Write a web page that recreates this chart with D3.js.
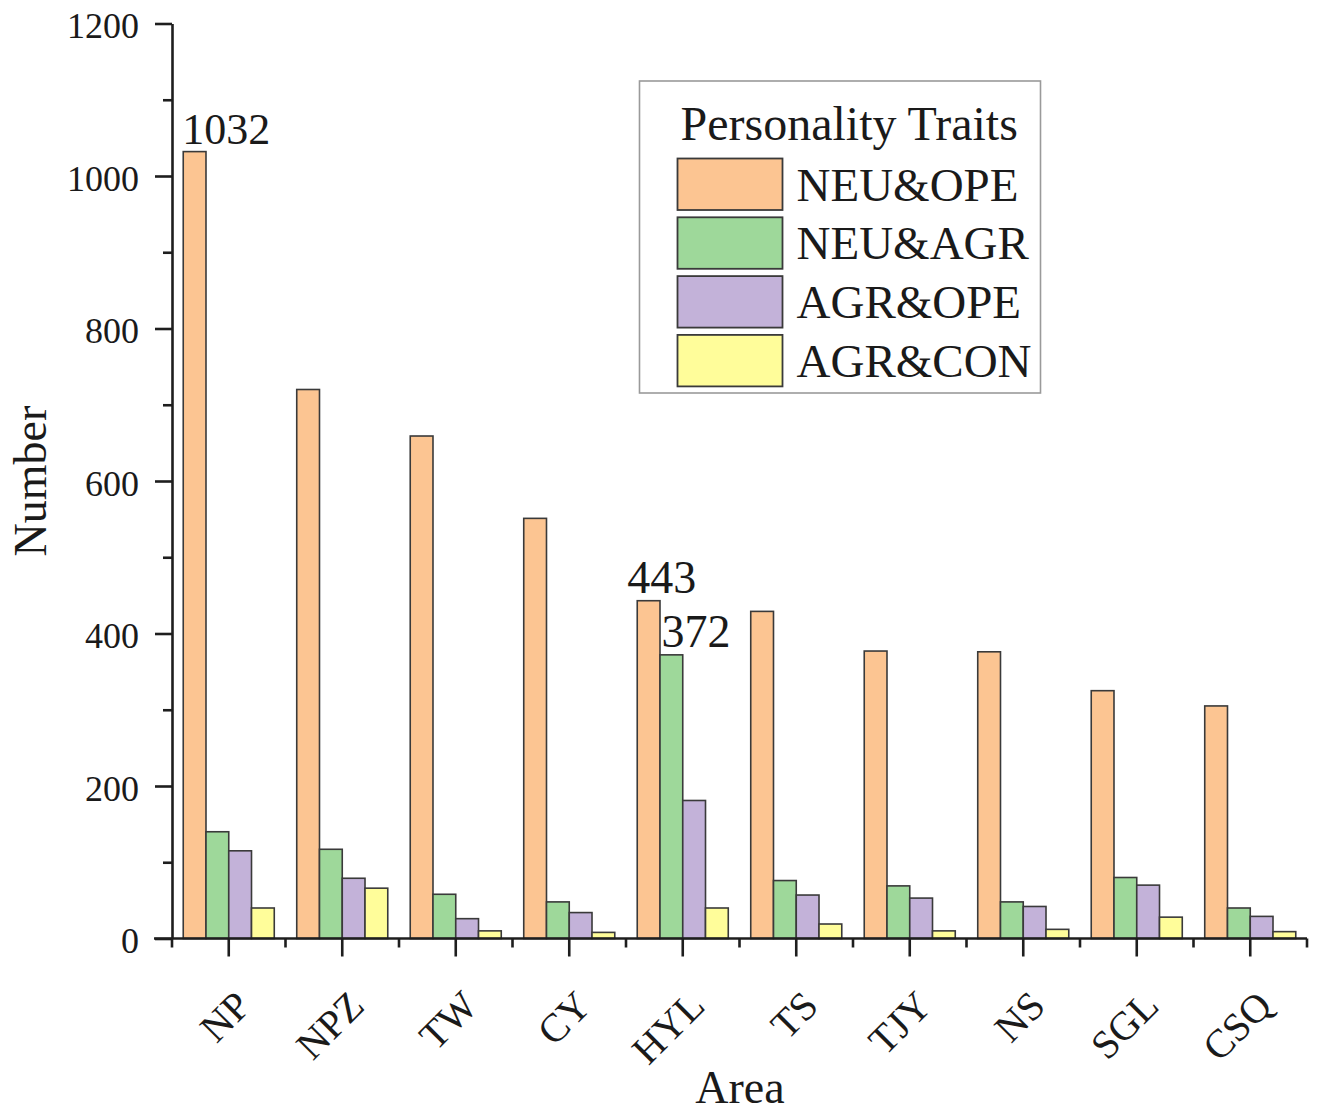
<!DOCTYPE html>
<html>
<head>
<meta charset="utf-8">
<script src="https://cdn.jsdelivr.net/npm/d3@7"></script>
<style>
  html, body { margin: 0; padding: 0; background: #fff; }
  svg { display: block; }
  text { font-family: "Liberation Serif", "Times New Roman", serif; fill: #1a1a1a; }
</style>
</head>
<body>
<svg id="chart" width="1319" height="1119"></svg>
<script>
// ---------------- data ----------------
const categories = ["NP", "NPZ", "TW", "CY", "HYL", "TS", "TJY", "NS", "SGL", "CSQ"];
const seriesNames = ["NEU&OPE", "NEU&AGR", "AGR&OPE", "AGR&CON"];
const neuOpe = [1032, 720, 659, 551, 443, 429, 377, 376, 325, 305];
const neuAgr = [140, 117, 58, 48, 372, 76, 69, 48, 80, 40];
const agrOpe = [115, 79, 26, 34, 181, 57, 53, 42, 70, 29];
const agrCon = [40, 66, 10, 8, 40, 19, 10, 12, 28, 9];
const seriesValues = [neuOpe, neuAgr, agrOpe, agrCon];
const seriesColors = ["#FCC592", "#9ED89A", "#C3B2D9", "#FFFD9A"];
const yMajorTicks = [0, 200, 400, 600, 800, 1000, 1200];
const yMinorTicks = [100, 300, 500, 700, 900, 1100];
const annotations = [
  { cat: "NP", series: 0, text: "1032" },
  { cat: "HYL", series: 0, text: "443" },
  { cat: "HYL", series: 1, text: "372" }
];
const xTitle = "Area";
const yTitle = "Number";
const legendTitle = "Personality Traits";

// ---------------- layout ----------------
const svg = d3.select("#chart");
const plot = { left: 172, right: 1307, top: 23.5, bottom: 938.5 };
const axisColor = "#1e1e1e";

const x = d3.scaleBand().domain(categories).range([plot.left, plot.right]).paddingInner(0).paddingOuter(0);
const groupPad = x.bandwidth() * 0.099;
const xInner = d3.scaleBand().domain(d3.range(seriesNames.length))
  .range([groupPad, x.bandwidth() - groupPad]).padding(0);
const y = d3.scaleLinear().domain([0, 1200]).range([plot.bottom, plot.top]);

// ---------------- bars ----------------
const groups = svg.append("g").selectAll("g")
  .data(categories)
  .join("g")
  .attr("transform", d => `translate(${x(d)},0)`);

groups.selectAll("rect")
  .data((c, ci) => seriesValues.map((vals, si) => ({ si, v: vals[ci] })))
  .join("rect")
  .attr("x", d => xInner(d.si))
  .attr("width", xInner.bandwidth())
  .attr("y", d => y(d.v))
  .attr("height", d => y(0) - y(d.v))
  .attr("fill", d => seriesColors[d.si])
  .attr("stroke", "#3a3a3a")
  .attr("stroke-width", 1.6);

// ---------------- annotations ----------------
const annOffsets = { "1032": -1, "443": -10, "372": 1.5 };
svg.append("g").selectAll("text")
  .data(annotations)
  .join("text")
  .attr("x", d => x(d.cat) + xInner(d.series) + annOffsets[d.text])
  .attr("y", d => y(seriesValues[d.series][categories.indexOf(d.cat)]) - 8)
  .attr("font-size", d => d.text.length === 4 ? 44 : 46)
  .text(d => d.text);

// ---------------- y axis ----------------
const yAxisG = svg.append("g").attr("transform", `translate(${plot.left},0)`);
yAxisG.call(d3.axisLeft(y).tickValues(yMajorTicks).tickSize(17).tickSizeOuter(0).tickPadding(16).tickFormat(d3.format("d")));
yAxisG.select(".domain").attr("stroke", axisColor).attr("stroke-width", 2.6);
yAxisG.selectAll(".tick line").attr("stroke", axisColor).attr("stroke-width", 2.6);
yAxisG.selectAll(".tick text")
  .attr("font-family", "'Liberation Serif', 'Times New Roman', serif")
  .attr("font-size", 36).attr("fill", "#1a1a1a").attr("dy", "0.4em");

const yMinorG = svg.append("g").attr("transform", `translate(${plot.left},0)`);
yMinorG.call(d3.axisLeft(y).tickValues(yMinorTicks).tickSize(9).tickSizeOuter(0).tickFormat(""));
yMinorG.select(".domain").remove();
yMinorG.selectAll(".tick line").attr("stroke", axisColor).attr("stroke-width", 2.6);

// ---------------- x axis ----------------
const xAxisG = svg.append("g").attr("transform", `translate(0,${plot.bottom})`);
xAxisG.call(d3.axisBottom(x).tickSize(18).tickSizeOuter(0).tickFormat(""));
xAxisG.select(".domain").attr("stroke", axisColor).attr("stroke-width", 2.6)
  .attr("d", `M${plot.left - 18},0H${plot.right}`);
xAxisG.selectAll(".tick line").attr("stroke", axisColor).attr("stroke-width", 2.6);

// minor x ticks at band boundaries
const boundaries = categories.map(c => x(c)).concat([x(categories[categories.length - 1]) + x.bandwidth()]);
xAxisG.append("g").selectAll("line")
  .data(boundaries)
  .join("line")
  .attr("x1", d => d).attr("x2", d => d)
  .attr("y1", 0).attr("y2", 9)
  .attr("stroke", axisColor).attr("stroke-width", 2.6);

// rotated category labels
svg.append("g").selectAll("text")
  .data(categories)
  .join("text")
  .attr("transform", d => `translate(${x(d) + x.bandwidth() / 2 + 24},1008) rotate(-45)`)
  .attr("text-anchor", "end")
  .attr("font-size", 40)
  .text(d => d);

// axis titles
svg.append("text")
  .attr("x", 740)
  .attr("y", 1103)
  .attr("text-anchor", "middle")
  .attr("font-size", 46)
  .text(xTitle);

svg.append("text")
  .attr("transform", `translate(46,${(plot.top + plot.bottom) / 2}) rotate(-90)`)
  .attr("text-anchor", "middle")
  .attr("font-size", 46)
  .text(yTitle);

// ---------------- legend ----------------
const legend = svg.append("g").attr("transform", "translate(639.5,81)");
legend.append("rect")
  .attr("width", 401).attr("height", 312)
  .attr("fill", "#fff")
  .attr("stroke", "#9a9a9a").attr("stroke-width", 1.6);
legend.append("text")
  .attr("x", 41).attr("y", 59)
  .attr("font-size", 48)
  .text(legendTitle);
const items = legend.selectAll("g.item")
  .data(seriesNames)
  .join("g")
  .attr("class", "item")
  .attr("transform", (d, i) => `translate(38,${77.5 + i * 58.8})`);
items.append("rect")
  .attr("width", 105).attr("height", 51.5)
  .attr("fill", (d, i) => seriesColors[i])
  .attr("stroke", "#3a3a3a").attr("stroke-width", 1.8);
items.append("text")
  .attr("x", 119).attr("y", 42)
  .attr("font-size", 47)
  .text(d => d);
</script>
</body>
</html>
